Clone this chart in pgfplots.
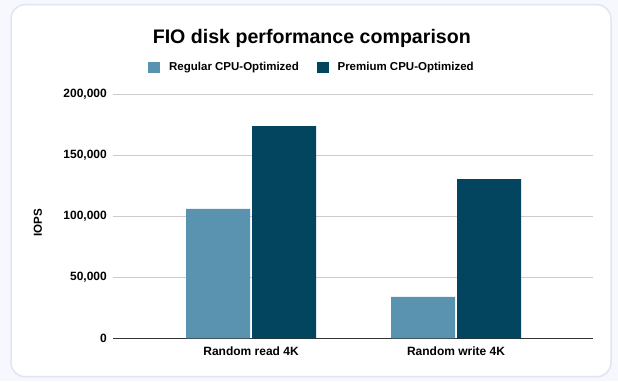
\documentclass[border=0pt]{standalone}
\usepackage{fontspec}
\setmainfont{Liberation Sans}
\usepackage{pgfplots}
\pgfplotsset{compat=1.18}
\definecolor{regular}{HTML}{5A93B0}
\definecolor{premium}{HTML}{03455F}
\definecolor{gridc}{HTML}{CCCCCC}
\definecolor{basec}{HTML}{333333}
\definecolor{cardborder}{HTML}{E1E4F4}
\definecolor{bgc}{HTML}{F7F8FD}
\begin{document}
\begin{tikzpicture}
\fill[bgc] (0pt,0pt) rectangle (618pt,381pt);
\draw[draw=cardborder, line width=1.5pt, fill=white, rounded corners=14pt] (11pt,4.3pt) rectangle (611pt,376.3pt);
\node[anchor=base, inner sep=0pt, font=\fontsize{19.6}{23}\selectfont\bfseries] at (311.8pt,337pt) {FIO disk performance comparison};
\node[rotate=90, inner sep=0pt, font=\fontsize{11.6}{14}\selectfont\bfseries] at (38pt,158pt) {IOPS};
\begin{axis}[
  at={(113pt,42.7pt)}, anchor=south west,
  scale only axis, width=480pt, height=244pt,
  xmin=-0.6732, xmax=1.668, ymin=0, ymax=200000,
  xtick={0,1}, xticklabels={Random read 4K, Random write 4K},
  ytick={0,50000,100000,150000,200000},
  scaled y ticks=false,
  /pgf/number format/.cd, fixed, 1000 sep={,}, assume math mode=true, /pgfplots/.cd,
  ymajorgrids, grid style={gridc, line width=0.9pt},
  major tick length=0pt,
  axis x line*=bottom, axis y line*=left,
  x axis line style={basec, line width=1pt},
  y axis line style={draw=none},
  ticklabel style={font=\fontsize{12}{14}\selectfont\bfseries, inner sep=0pt},
  yticklabel style={xshift=-6pt},
  xticklabel style={yshift=-8.5pt},
  ybar, bar width=64pt,
  legend columns=2,
  legend style={at={(axis description cs:0.0735,1.1098)}, anchor=west, draw=none, fill=none, inner sep=0pt,
    font=\fontsize{11.5}{14}\selectfont\bfseries,
    nodes={inner sep=0pt},
    /tikz/every odd column/.append style={column sep=9pt},
    /tikz/every even column/.append style={column sep=18pt}},
  legend image code/.code={\fill[#1] (0pt,-5.8pt) rectangle (11.7pt,5.8pt);},
]
\addplot[fill=regular, draw=none, bar shift=-33pt] coordinates {(0,106000) (1,34000)};
\addplot[fill=premium, draw=none, bar shift=33pt] coordinates {(0,174000) (1,130500)};
\legend{Regular CPU-Optimized, Premium CPU-Optimized}
\end{axis}
\end{tikzpicture}
\end{document}
